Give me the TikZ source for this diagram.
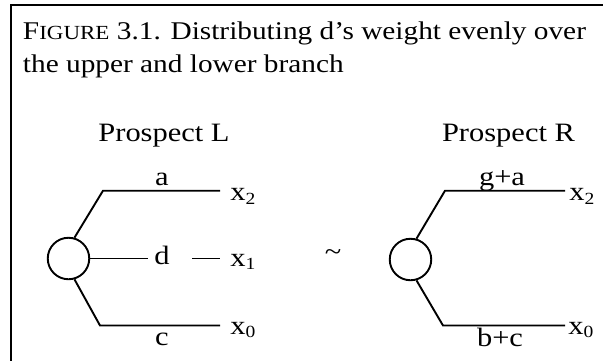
\documentclass[tikz,border=0pt]{standalone}
\usepackage{fontspec}
\setmainfont{Liberation Serif}[FakeStretch=1.15]
\newcommand\lbl{\fontsize{26.5}{30}\selectfont}
\newcommand\ttl{\fontsize{25.5}{30}\selectfont}
\newcommand\sub[1]{\raisebox{-3.3pt}{\fontsize{17}{17}\selectfont #1}}
\newcommand\smc[1]{{\fontsize{20}{20}\selectfont #1}}
\begin{document}
\begin{tikzpicture}[x=1pt,y=-1pt,line width=1.9pt,
  every node/.style={font=\lbl, inner sep=0pt},
  chance/.style={circle, draw, minimum size=41.5pt, inner sep=0pt},
  branch/.style={line width=1.9pt},
  outcome/.style={anchor=base west},
  prob/.style={anchor=base}]
\useasboundingbox (0,0) rectangle (603,360);
% frame
\coordinate (fBL) at (11,362);
\coordinate (fTL) at (11,5);
\coordinate (fTR) at (605,5);
\draw (fBL) -- (fTL) -- (fTR);
% title
\node[anchor=base west, font=\ttl] (t1) at (22,39) {F\smc{IGURE} 3.1. Distributing d’s weight evenly over};
\node[anchor=base west, font=\ttl] (t2) at (22,72) {the upper and lower branch};
% Prospect L
\node[prob] (pL) at (164,141.5) {Prospect L};
\node[chance] (cL) at (68.5,258.5) {};
\coordinate (kLu) at (103,190.7);
\coordinate (eLu) at (220,190.7);
\coordinate (kLd) at (100,325.5);
\coordinate (eLd) at (220,325.5);
\draw[branch] (cL.74) -- (kLu) -- (eLu);
\draw[branch] (cL.-74) -- (kLd) -- (eLd);
\node[prob] (la) at (162,185) {a};
\node[prob] (lc) at (162,345) {c};
\node[prob] (ld) at (162,264) {d};
\coordinate (dmL) at (148,258.5);
\coordinate (dsL) at (192,258.5);
\coordinate (deL) at (220,258.5);
\draw[branch] (cL.east) -- (dmL);
\draw[branch] (dsL) -- (deL);
\node[outcome] (lx2) at (229.5,200.7) {x\sub{2}};
\node[outcome] (lx1) at (229.5,266.5) {x\sub{1}};
\node[outcome] (lx0) at (229.5,334.5) {x\sub{0}};
% tilde
\node (tl) at (333,255) {\lbl\~{}};
% Prospect R
\node[prob] (pR) at (508.5,141.5) {Prospect R};
\node[chance] (cR) at (410.5,259.5) {};
\coordinate (kRu) at (445,190.7);
\coordinate (eRu) at (565,190.7);
\coordinate (kRd) at (443,325.5);
\coordinate (eRd) at (565,325.5);
\draw[branch] (cR.74) -- (kRu) -- (eRu);
\draw[branch] (cR.-74) -- (kRd) -- (eRd);
\node[prob] (rga) at (502,185) {g+a};
\node[prob] (rbc) at (500,346) {b+c};
\node[outcome] (rx2) at (568.5,200.7) {x\sub{2}};
\node[outcome] (rx0) at (567.5,334.5) {x\sub{0}};
\end{tikzpicture}
\end{document}
